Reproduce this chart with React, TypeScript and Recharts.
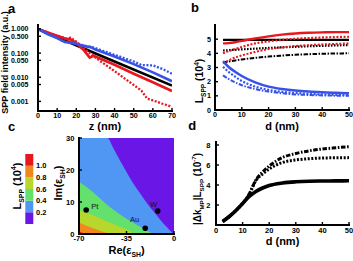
import React from 'react';
import {
  LineChart, Line, XAxis, YAxis, ComposedChart, Area, Scatter, BarChart, Bar, CartesianGrid,
} from 'recharts';

const FONT = '"Liberation Sans", Arial, Helvetica, sans-serif';

// ---------------- Panel a : SPP field intensity vs z ----------------
const aTicksX = [0, 10, 20, 30, 40, 50, 60, 70];
const aTicksY = [0.001, 0.005, 0.01, 0.05, 0.1, 0.5, 1];
const aBlackZ = [0, 35, 70];
const aBlackI = [1.0, 0.066, 0.0045];
const aRedZ = [0, 5, 10, 15, 17, 20, 24, 27, 29, 40, 50, 60, 70];
const aRedI = [1.0, 0.72, 0.52, 0.38, 0.37, 0.26, 0.13, 0.065, 0.078, 0.033, 0.014, 0.0062, 0.0027];
const aRedDotZ = [0, 5, 10, 15, 17, 20, 24, 27, 30, 35, 40, 45, 50, 54, 57, 60, 65, 70];
const aRedDotI = [1.0, 0.72, 0.52, 0.4, 0.43, 0.3, 0.16, 0.1, 0.065, 0.034, 0.018, 0.0092, 0.0048, 0.0028, 0.0013, 0.0011, 0.0008, 0.0006];
const aBlueZ = [0, 5, 10, 14, 17, 20, 25, 28, 30, 40, 50, 60, 70];
const aBlueI = [1.0, 0.62, 0.42, 0.29, 0.27, 0.24, 0.19, 0.17, 0.14, 0.072, 0.035, 0.016, 0.0068];
const aBlueDotZ = [0, 5, 10, 14, 17, 20, 25, 28, 30, 40, 50, 54, 60, 65, 70];
const aBlueDotI = [1.0, 0.62, 0.42, 0.29, 0.28, 0.25, 0.2, 0.18, 0.16, 0.085, 0.045, 0.032, 0.031, 0.022, 0.014];

// ---------------- Panel b : L_SPP vs d ----------------
const bTicksX = [0, 10, 20, 30, 40, 50];
const bTicksY = [0, 1, 2, 3, 4, 5];
const bD = [3, 5, 7.5, 10, 15, 20, 25, 30, 35, 40, 45, 50];
const bBlackSolid = [4.95, 4.95, 4.95, 4.95, 4.95, 4.95, 4.95, 4.95, 4.95, 4.95, 4.95, 4.95];
const bBlackDot = [4.2, 4.22, 4.25, 4.28, 4.33, 4.38, 4.42, 4.46, 4.5, 4.53, 4.56, 4.58];
const bBlackDashDot = [3.35, 3.42, 3.5, 3.57, 3.68, 3.77, 3.84, 3.9, 3.94, 3.97, 3.99, 4.0];
const bRedSolid = [4.7, 4.72, 4.78, 4.88, 5.05, 5.2, 5.32, 5.4, 5.45, 5.48, 5.5, 5.5];
const bRedDot = [4.0, 4.15, 4.3, 4.45, 4.7, 4.85, 4.95, 5.03, 5.08, 5.12, 5.15, 5.17];
const bRedDashDot = [3.3, 3.5, 3.7, 3.85, 4.1, 4.3, 4.42, 4.52, 4.58, 4.63, 4.67, 4.7];
const bBlueSolid = [3.45, 3.05, 2.7, 2.4, 1.95, 1.65, 1.48, 1.37, 1.3, 1.25, 1.21, 1.19];
const bBlueDot = [3.05, 2.7, 2.35, 2.05, 1.65, 1.42, 1.28, 1.2, 1.14, 1.1, 1.07, 1.05];
const bBlueDashDot = [2.45, 2.2, 1.95, 1.75, 1.48, 1.3, 1.18, 1.1, 1.06, 1.03, 1.01, 1.0];

// ---------------- Panel c : contour map of L_SPP ----------------
const cTicksX = [-70, -35, 0];
const cTicksY = [0, 10, 20, 30];
const cB1Re = [-70, -49, -45, -40, -35, -30, -25, -20, -15, -10, -5, -1, 0];
const cB1Im = [30, 30, 27.1, 23.1, 19.4, 15.8, 12.7, 9.7, 7.0, 4.4, 2.0, 0.3, 0];
const cB2Re = [-70, -60, -50, -45, -40, -35, -30, -25, -20, -15, 0];
const cB2Im = [16.3, 13.2, 9.4, 7.7, 6.2, 4.8, 3.5, 2.3, 1.15, 0.05, 0];
const cB3Re = [-70, -60, -50, -45, -40, -35, -29, 0];
const cB3Im = [7.5, 5.9, 4.05, 3.1, 2.3, 1.45, 0, 0];
const cB4Re = [-70, -60, -55, -50, -47, 0];
const cB4Im = [3.6, 1.85, 1.1, 0.4, 0, 0];
const cB5Re = [-70, -67, -64, 0];
const cB5Im = [0.8, 0.35, 0, 0];
const metalNames = ['Pt', 'W', 'Au'];
const metalRe = [-64.7, -12, -21.2];
const metalIm = [7.5, 7.2, 1.8];

// colour bar
const cbLevels = [0, 0.2, 0.4, 0.6, 0.8, 1.0, 1.2];
const cbTicks = [0.2, 0.4, 0.6, 0.8, 1.0];

// ---------------- Panel d : |dk_MP| L_SPP vs d ----------------
const dTicksX = [0, 10, 20, 30, 40, 50];
const dTicksY = [2, 4, 6, 8];
const dD = [2.5, 5, 7.5, 10, 12.5, 15, 17.5, 20, 25, 30, 35, 40, 45, 50];
const dSolid = [0.35, 0.85, 1.45, 2.15, 2.85, 3.35, 3.7, 3.95, 4.2, 4.32, 4.38, 4.4, 4.41, 4.42];
const dDashDot = [0.35, 0.85, 1.45, 2.15, 3.1, 4.5, 5.3, 5.9, 6.75, 7.15, 7.42, 7.6, 7.72, 7.83];
const dDot = [0.35, 0.85, 1.45, 2.15, 3.1, 4.45, 5.1, 5.6, 6.25, 6.5, 6.63, 6.7, 6.72, 6.74];

// ---------------- styles ----------------
const RED = '#e8161e';
const BLUE = '#3652e8';
const BLK = '#000000';
const C_COLORS = ['#6a16e6', '#4f97f3', '#64e06c', '#b7d72c', '#f0871f', '#e8161e'];
const DOT = '2 1.6';
const DDOT = '1.6 1.4';
const DASHDOT = '4.5 1.5 1.5 1.5';

const frameLine: any = { stroke: '#000', strokeWidth: 2, strokeLinecap: 'square' };
const tickLineStyle: any = { stroke: '#000', strokeWidth: 1.4 };
const tickFont = (size: number): any => ({ fill: '#000', fontSize: size, fontWeight: 700, fontFamily: FONT });
const blank = () => '';

type Part = [string, 'n' | 'sub' | 'sup'];
function RichText({ x, y, size, parts, rot, anchor = 'middle', weight = 700 }:
  { x: number; y: number; size: number; parts: Part[]; rot?: boolean; anchor?: string; weight?: number }) {
  let cur = 0;
  const spans = parts.map(([t, k], i) => {
    const target = k === 'sub' ? size * 0.3 : k === 'sup' ? -size * 0.42 : 0;
    const dy = target - cur;
    cur = target;
    return (
      <tspan key={i} dy={dy} fontSize={k === 'n' ? size : size * 0.62}>{t}</tspan>
    );
  });
  return (
    <text
      x={x} y={y} textAnchor={anchor as any} fontFamily={FONT} fontWeight={weight} fontSize={size} fill="#000"
      style={{ whiteSpace: 'pre' }}
      transform={rot ? `rotate(-90 ${x} ${y})` : undefined}
    >
      {spans}
    </text>
  );
}

const zip = (xs: number[], ys: number[], xk: string, yk: string) => xs.map((x, i) => ({ [xk]: x, [yk]: ys[i] }));

// ---------------- Panel a ----------------
const aSeries = [
  { key: 'black', data: zip(aBlackZ, aBlackI, 'z', 'v'), color: BLK, width: 2.6, dash: undefined },
  { key: 'redDot', data: zip(aRedDotZ, aRedDotI, 'z', 'v'), color: RED, width: 2.3, dash: DOT },
  { key: 'red', data: zip(aRedZ, aRedI, 'z', 'v'), color: RED, width: 2.6, dash: undefined },
  { key: 'blueDot', data: zip(aBlueDotZ, aBlueDotI, 'z', 'v'), color: BLUE, width: 2.3, dash: DOT },
  { key: 'blue', data: zip(aBlueZ, aBlueI, 'z', 'v'), color: BLUE, width: 2.6, dash: undefined },
];

function ALabels() {
  return (
    <g>
      <RichText x={8} y={12.5} size={13} anchor="start" parts={[['a', 'n']]} />
      <RichText x={105} y={130} size={11} parts={[['z (nm)', 'n']]} />
      <RichText x={8.3} y={62.5} size={9} rot parts={[['SPP field intensity (a.u.)', 'n']]} />
    </g>
  );
}

function PanelA() {
  return (
    <LineChart width={180} height={136} margin={{ top: 25, right: 8, bottom: 0, left: 0 }}>
      {aSeries.map((s) => (
        <Line key={s.key} xAxisId="x" yAxisId="y" data={s.data} dataKey="v" type="linear" stroke={s.color}
          strokeWidth={s.width} strokeDasharray={s.dash} dot={false} activeDot={false} isAnimationActive={false} />
      ))}
      <XAxis xAxisId="x" type="number" dataKey="z" domain={[0, 70]} ticks={aTicksX} interval={0} allowDataOverflow
        height={25} axisLine={frameLine} tickLine={tickLineStyle} tickSize={-3} tickMargin={5.3} tick={tickFont(7.2)}
        label={<ALabels />} />
      <XAxis xAxisId="xt" orientation="top" type="number" domain={[0, 70]} ticks={aTicksX} interval={0} allowDataOverflow
        height={0} axisLine={frameLine} tickLine={tickLineStyle} tickSize={-3} tickFormatter={blank} />
      <YAxis yAxisId="y" type="number" scale="log" domain={[0.0004, 1.46]} allowDataOverflow ticks={aTicksY} interval={0}
        width={38} axisLine={frameLine} tickLine={tickLineStyle} tickSize={-3} tickMargin={12.5} tick={tickFont(7)}
        tickFormatter={(v: number) => v.toFixed(3)} />
      <YAxis yAxisId="yr" orientation="right" type="number" scale="log" domain={[0.0004, 1.46]} allowDataOverflow
        ticks={aTicksY} interval={0} width={0} axisLine={frameLine} tickLine={tickLineStyle} tickSize={-3} tickFormatter={blank} />
    </LineChart>
  );
}

// ---------------- Panel b ----------------
const bRows = bD.map((d, i) => ({
  d,
  blackSolid: bBlackSolid[i], blackDot: bBlackDot[i], blackDashDot: bBlackDashDot[i],
  redSolid: bRedSolid[i], redDot: bRedDot[i], redDashDot: bRedDashDot[i],
  blueSolid: bBlueSolid[i], blueDot: bBlueDot[i], blueDashDot: bBlueDashDot[i],
}));
const bSeries = [
  { key: 'blackDashDot', color: BLK, width: 2, dash: DASHDOT },
  { key: 'blackDot', color: BLK, width: 2.2, dash: DDOT },
  { key: 'blackSolid', color: BLK, width: 2.2, dash: undefined },
  { key: 'redDashDot', color: RED, width: 2, dash: DOT },
  { key: 'redDot', color: RED, width: 2.2, dash: DOT },
  { key: 'redSolid', color: RED, width: 2.4, dash: undefined },
  { key: 'blueDashDot', color: BLUE, width: 2, dash: DASHDOT },
  { key: 'blueDot', color: BLUE, width: 2.2, dash: DOT },
  { key: 'blueSolid', color: BLUE, width: 2.5, dash: undefined },
];

function BLabels() {
  return (
    <g>
      <RichText x={11} y={12} size={13} anchor="start" parts={[['b', 'n']]} />
      <RichText x={102} y={129.5} size={11} parts={[['d (nm)', 'n']]} />
      <RichText x={23} y={81} size={10.5} rot
        parts={[['L', 'n'], ['SPP', 'sub'], [' (10', 'n'], ['4', 'sup'], [')', 'n']]} />
    </g>
  );
}

function PanelB() {
  return (
    <LineChart width={173} height={136} data={bRows} margin={{ top: 25, right: 4, bottom: 0, left: 0 }}>
      {bSeries.map((s) => (
        <Line key={s.key} xAxisId="x" yAxisId="y" dataKey={s.key} type="monotone" stroke={s.color}
          strokeWidth={s.width} strokeDasharray={s.dash} dot={false} activeDot={false} isAnimationActive={false} />
      ))}
      <XAxis xAxisId="x" type="number" dataKey="d" domain={[0, 50]} ticks={bTicksX} interval={0} allowDataOverflow
        height={26} axisLine={frameLine} tickLine={tickLineStyle} tickSize={-3} tickMargin={5.2} tick={tickFont(7.2)}
        label={<BLabels />} />
      <XAxis xAxisId="xt" orientation="top" type="number" domain={[0, 50]} ticks={bTicksX} interval={0} allowDataOverflow
        height={0} axisLine={frameLine} tickLine={tickLineStyle} tickSize={-3} tickFormatter={blank} />
      <YAxis yAxisId="y" type="number" domain={[0, 6]} allowDataOverflow ticks={bTicksY} interval={0}
        width={35} axisLine={frameLine} tickLine={tickLineStyle} tickSize={-3} tickMargin={7} tick={tickFont(7.2)} />
      <YAxis yAxisId="yr" orientation="right" type="number" domain={[0, 6]} allowDataOverflow ticks={bTicksY} interval={0}
        width={0} axisLine={frameLine} tickLine={tickLineStyle} tickSize={-3} tickFormatter={blank} />
    </LineChart>
  );
}

// ---------------- Panel c ----------------
const cBounds = [
  { key: 'b1', data: zip(cB1Re, cB1Im, 're', 'im'), color: C_COLORS[1] },
  { key: 'b2', data: zip(cB2Re, cB2Im, 're', 'im'), color: C_COLORS[2] },
  { key: 'b3', data: zip(cB3Re, cB3Im, 're', 'im'), color: C_COLORS[3] },
  { key: 'b4', data: zip(cB4Re, cB4Im, 're', 'im'), color: C_COLORS[4] },
  { key: 'b5', data: zip(cB5Re, cB5Im, 're', 'im'), color: C_COLORS[5] },
];
const metals = metalNames.map((name, i) => ({ name, re: metalRe[i], im: metalIm[i] }));
const metalLabelStyle: Record<string, { dx: number; dy: number; anchor: string }> = {
  Pt: { dx: 5, dy: -1, anchor: 'start' },
  W: { dx: -0.5, dy: -4.3, anchor: 'end' },
  Au: { dx: -6, dy: -6, anchor: 'end' },
};

function MetalDot(props: any) {
  const { cx, cy, payload } = props;
  const st = metalLabelStyle[payload.name];
  return (
    <g>
      <circle cx={cx} cy={cy} r={2.8} fill="#000" />
      <text x={cx + st.dx} y={cy + st.dy} textAnchor={st.anchor as any} fontSize={7.5} fontFamily={FONT} fill="#111">
        {payload.name}
      </text>
    </g>
  );
}

function CLabels() {
  return (
    <g>
      <RichText x={8} y={13} size={13} anchor="start" parts={[['c', 'n']]} />
      <RichText x={126.5} y={135.5} size={11} parts={[['Re(ε', 'n'], ['SH', 'sub'], [')', 'n']]} />
      <RichText x={61.5} y={65} size={11} rot parts={[['Im(ε', 'n'], ['SH', 'sub'], [')', 'n']]} />
    </g>
  );
}

function PanelC() {
  return (
    <ComposedChart width={180} height={143} margin={{ top: 20, right: 6, bottom: 0, left: 0 }}>
      <CartesianGrid xAxisId="x" yAxisId="y" horizontal={false} vertical={false} fill={C_COLORS[0]} stroke="none" />
      {cBounds.map((b) => (
        <Area key={b.key} xAxisId="x" yAxisId="y" data={b.data} dataKey="im" type="monotone" baseValue={0}
          stroke="none" fill={b.color} fillOpacity={1} dot={false} activeDot={false} isAnimationActive={false} />
      ))}
      <Scatter xAxisId="x" yAxisId="y" data={metals} dataKey="im" shape={MetalDot} isAnimationActive={false} />
      <XAxis xAxisId="x" type="number" dataKey="re" domain={[-70, 0]} ticks={cTicksX} interval={0} allowDataOverflow
        height={27} axisLine={frameLine} tickLine={tickLineStyle} tickSize={-3} tickMargin={4.6} tick={tickFont(7.6)}
        label={<CLabels />} />
      <XAxis xAxisId="xt" orientation="top" type="number" domain={[-70, 0]} ticks={cTicksX} interval={0} allowDataOverflow
        height={0} axisLine={frameLine} tickLine={tickLineStyle} tickSize={-3} tickFormatter={blank} />
      <YAxis yAxisId="y" type="number" domain={[0, 30]} allowDataOverflow ticks={cTicksY} interval={0}
        width={79} axisLine={frameLine} tickLine={tickLineStyle} tickSize={-3} tickMargin={7.5} tick={tickFont(7.6)} />
      <YAxis yAxisId="yr" orientation="right" type="number" domain={[0, 30]} allowDataOverflow ticks={cTicksY} interval={0}
        width={0} axisLine={frameLine} tickLine={tickLineStyle} tickSize={-3} tickFormatter={blank} />
    </ComposedChart>
  );
}

// ---------------- colour bar ----------------
const cbRow: Record<string, any> = { k: 'L' };
C_COLORS.forEach((_, i) => { cbRow['s' + i] = cbLevels[i + 1] - cbLevels[i]; });

function CbLabel() {
  return (
    <RichText x={13} y={38} size={11} rot
      parts={[['L', 'n'], ['SPP', 'sub'], [' (10', 'n'], ['4', 'sup'], [')', 'n']]} />
  );
}

function ColorBar() {
  return (
    <BarChart width={50} height={82} data={[cbRow]} margin={{ top: 6, right: 0, bottom: 6, left: 17.3 }}
      barCategoryGap={0} barGap={0}>
      <XAxis dataKey="k" hide />
      <YAxis orientation="right" width={24.7} domain={[0, 1.2]} allowDataOverflow ticks={cbTicks} interval={0}
        axisLine={false} tickLine={false} tickSize={0} tickMargin={2.7} tick={tickFont(7.5)}
        tickFormatter={(v: number) => v.toFixed(1)} label={<CbLabel />} />
      {C_COLORS.map((c, i) => (
        <Bar key={i} dataKey={'s' + i} stackId="cb" fill={c} isAnimationActive={false} />
      ))}
    </BarChart>
  );
}

// ---------------- Panel d ----------------
const dRows = dD.map((d, i) => ({ d, solid: dSolid[i], dashDot: dDashDot[i], dot: dDot[i] }));
const dSeries = [
  { key: 'dot', color: BLK, width: 3, dash: '2 1.6' },
  { key: 'dashDot', color: BLK, width: 3, dash: '4.5 1.6 1.6 1.6' },
  { key: 'solid', color: BLK, width: 3.6, dash: undefined },
];

function DLabels() {
  return (
    <g>
      <RichText x={8.3} y={12} size={13} anchor="start" parts={[['d', 'n']]} />
      <RichText x={102.5} y={127} size={11} parts={[['d (nm)', 'n']]} />
      <RichText x={20.5} y={71} size={10} rot
        parts={[['|Δk', 'n'], ['MP', 'sub'], ['|L', 'n'], ['SPP', 'sub'], [' (10', 'n'], ['-7', 'sup'], [')', 'n']]} />
    </g>
  );
}

function PanelD() {
  return (
    <LineChart width={173} height={143} data={dRows} margin={{ top: 24, right: 4, bottom: 0, left: 0 }}>
      {dSeries.map((s) => (
        <Line key={s.key} xAxisId="x" yAxisId="y" dataKey={s.key} type="monotone" stroke={s.color}
          strokeWidth={s.width} strokeDasharray={s.dash} dot={false} activeDot={false} isAnimationActive={false} />
      ))}
      <XAxis xAxisId="x" type="number" dataKey="d" domain={[0, 50]} ticks={dTicksX} interval={0} allowDataOverflow
        height={36} axisLine={frameLine} tickLine={tickLineStyle} tickSize={-3} tickMargin={5.8} tick={tickFont(7.5)}
        label={<DLabels />} />
      <XAxis xAxisId="xt" orientation="top" type="number" domain={[0, 50]} ticks={dTicksX} interval={0} allowDataOverflow
        height={0} axisLine={frameLine} tickLine={tickLineStyle} tickSize={-3} tickFormatter={blank} />
      <YAxis yAxisId="y" type="number" domain={[0, 8.3]} allowDataOverflow ticks={dTicksY} interval={0}
        width={36} axisLine={frameLine} tickLine={tickLineStyle} tickSize={-3} tickMargin={8.5} tick={tickFont(7.5)} />
      <YAxis yAxisId="yr" orientation="right" type="number" domain={[0, 8.3]} allowDataOverflow ticks={dTicksY} interval={0}
        width={0} axisLine={frameLine} tickLine={tickLineStyle} tickSize={-3} tickFormatter={blank} />
    </LineChart>
  );
}

export default function App() {
  return (
    <div style={{ position: 'absolute', left: 0, top: 0, width: 353, height: 261, background: '#fff', overflow: 'hidden' }}>
      <div style={{ position: 'absolute', left: 0, top: 0 }}><PanelA /></div>
      <div style={{ position: 'absolute', left: 180, top: 0 }}><PanelB /></div>
      <div style={{ position: 'absolute', left: 0, top: 118 }}><PanelC /></div>
      <div style={{ position: 'absolute', left: 8, top: 148 }}><ColorBar /></div>
      <div style={{ position: 'absolute', left: 180, top: 118 }}><PanelD /></div>
    </div>
  );
}
